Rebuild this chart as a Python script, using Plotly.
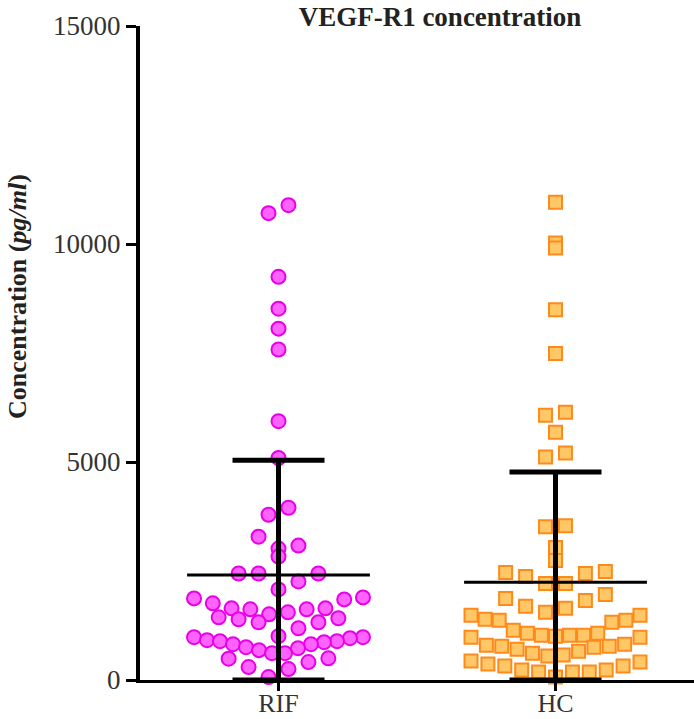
import numpy as np
import plotly.graph_objects as go

# ---------------- data ----------------
categories = ["RIF", "HC"]

rif_values = [10890, 10708, 9247, 8516, 8059, 7580, 5936, 5091,
              3950, 3790, 3288, 3082, 3014, 2831,
              2443, 2443, 2443, 2260, 2078,
              1895, 1872, 1849, 1758, 1644, 1644, 1621, 1621, 1553, 1507,
              1438, 1416, 1393, 1324, 1324, 1187, 1005,
              982, 982, 959, 913, 890, 890, 868, 822, 822, 753, 730, 685, 616, 616,
              497, 490, 411, 297, 251, 68]

hc_values = [10959, 10023, 9909, 8493, 7489, 6142, 6073, 5685, 5205, 5114,
             3539, 3516, 3037, 2740,
             2490, 2466, 2443, 2374, 2215, 2215,
             1963, 1872, 1826, 1690, 1644, 1553,
             1484, 1484, 1393, 1370, 1370, 1324, 1142, 1073, 1073, 1027, 1027, 1027, 1005,
             982, 982, 822, 799, 776, 776, 753, 708, 662, 616, 571, 548,
             434, 411, 365, 320, 320, 228, 228, 183, 183, 183, 68]

mean_values = [2410, 2240]
sd_values = [2630, 2530]

y_ticks = [0, 5000, 10000, 15000]

title_text = "VEGF-R1 concentration"
y_label = "Concentration (<i>pg/ml</i>)"

# ---------------- layout helpers ----------------
FONT = '"Liberation Serif", "Times New Roman", serif'

FIG_W, FIG_H = 694, 719
M_L, M_R, M_T, M_B = 140, 0, 26, 39
PLOT_W = FIG_W - M_L - M_R
PLOT_H = FIG_H - M_T - M_B


def swarm_offsets(values, bin_size=500, step=0.072, max_span=0.61):
    """Prism-like scatter-dot layout: values grouped in rows, spread sideways."""
    vals = np.asarray(values, dtype=float)
    offsets = np.zeros(len(vals))
    bins = np.floor(vals / bin_size).astype(int)
    for b in np.unique(bins):
        idx = np.where(bins == b)[0]
        idx = idx[np.argsort(vals[idx], kind="stable")]
        n = len(idx)
        s = step if n < 2 else min(step, max_span / (n - 1))
        for k, i in enumerate(idx):
            if n % 2 == 1:
                m = (k + 1) // 2
                sign = 1 if k % 2 == 1 else -1
                offsets[i] = sign * m * s
            else:
                m = k // 2
                sign = -1 if k % 2 == 0 else 1
                offsets[i] = sign * (m + 0.5) * s
    return offsets


groups = [
    (rif_values, dict(symbol="circle", size=14, color="#FF63FF",
                      line=dict(color="#E800E8", width=2))),
    (hc_values, dict(symbol="square", size=13, color="#FFC766",
                     line=dict(color="#FF8A1C", width=2))),
]

fig = go.Figure()

for i, (vals, mstyle) in enumerate(groups):
    pos = i + 1
    xs = pos + swarm_offsets(vals)
    fig.add_trace(go.Scatter(x=xs, y=vals, mode="markers", marker=mstyle,
                             cliponaxis=False, showlegend=False,
                             name=categories[i]))

for i, (m, sd) in enumerate(zip(mean_values, sd_values)):
    pos = i + 1
    fig.add_trace(go.Scatter(x=[pos - 0.33, pos + 0.33], y=[m, m], mode="lines",
                             line=dict(color="black", width=3),
                             cliponaxis=False, showlegend=False))
    fig.add_trace(go.Scatter(x=[pos], y=[m], mode="markers",
                             marker=dict(size=1, color="rgba(0,0,0,0)"),
                             error_y=dict(type="data", array=[sd],
                                          arrayminus=[min(sd, m)],
                                          thickness=5, width=46, color="black"),
                             cliponaxis=False, showlegend=False))

fig.update_layout(
    width=FIG_W, height=FIG_H,
    margin=dict(l=M_L, r=M_R, t=M_T, b=M_B, pad=0),
    paper_bgcolor="white", plot_bgcolor="white",
    font=dict(family=FONT, color="#333333"),
    showlegend=False,
    title=dict(text=title_text, x=440 / FIG_W, xref="container", xanchor="center",
               y=1 - 17 / FIG_H, yref="container", yanchor="middle",
               font=dict(family=FONT, size=27, color="#222222", weight="bold")),
    xaxis=dict(range=[0.5, 2.5], tickvals=[1, 2], ticktext=categories,
               showline=True, linewidth=3, linecolor="black",
               ticks="outside", ticklen=8, tickwidth=3, tickcolor="black",
               ticklabelstandoff=-10,
               tickfont=dict(family=FONT, size=26, color="#333333"),
               showgrid=False, zeroline=False),
    yaxis=dict(range=[0, 15000], tickvals=y_ticks,
               ticktext=[str(t) for t in y_ticks],
               showline=True, linewidth=4, linecolor="black",
               ticks="outside", ticklen=10, tickwidth=3, tickcolor="black",
               tickfont=dict(family=FONT, size=27, color="#333333"),
               showgrid=False, zeroline=False),
    annotations=[dict(text="<b>" + y_label + "</b>", textangle=-90,
                      xref="paper", yref="paper",
                      x=(17 - M_L) / PLOT_W, y=(PLOT_H + M_T - 297) / PLOT_H,
                      xanchor="center", yanchor="middle", showarrow=False,
                      font=dict(family=FONT, size=26, color="#222222"))],
)

# remove the default 8px page margin so the figure sits at the window corner
fig.write_html("out.html",
               config={"displayModeBar": False},
               post_script="document.body.style.margin='0px';"
                           "document.documentElement.style.overflow='hidden';")
